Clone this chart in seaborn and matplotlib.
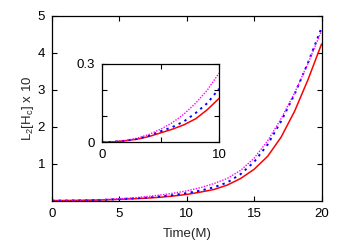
import numpy as np
import pandas as pd
import matplotlib
matplotlib.use("Agg")
import matplotlib.pyplot as plt
import seaborn as sns

# values
time = list(range(0, 21))
red = [0, 0.002, 0.006, 0.012, 0.022, 0.036, 0.05, 0.067, 0.09, 0.125, 0.168,
       0.23, 0.3, 0.42, 0.6, 0.85, 1.2, 1.72, 2.42, 3.28, 4.24]
blue = [0, 0.002, 0.006, 0.013, 0.025, 0.042, 0.058, 0.08, 0.112, 0.15, 0.205,
        0.27, 0.36, 0.49, 0.72, 1.05, 1.52, 2.15, 2.88, 3.74, 4.68]
magenta = [0, 0.002, 0.007, 0.016, 0.03, 0.05, 0.075, 0.108, 0.15, 0.2, 0.265,
           0.35, 0.46, 0.6, 0.82, 1.15, 1.62, 2.22, 2.92, 3.72, 4.6]

df = pd.DataFrame({"t": time, "red": red, "blue": blue, "magenta": magenta})
inset_df = df[df["t"] <= 10]

sns.set_style("ticks")
plt.rcParams["font.family"] = ["Liberation Sans", "DejaVu Sans"]
plt.rcParams["font.size"] = 9.5
plt.rcParams["mathtext.fontset"] = "custom"
plt.rcParams["mathtext.rm"] = "Liberation Sans"
plt.rcParams["mathtext.it"] = "Liberation Sans"

styles = [("red", "red", "-", 1.1),
          ("blue", "blue", (0, (1.2, 2.2)), 1.4),
          ("magenta", "magenta", (0, (1, 1)), 1.0)]


def draw(ax, data):
    for col, color, ls, lw in styles:
        sns.lineplot(data=data, x="t", y=col, ax=ax, color=color,
                     linestyle=ls, linewidth=lw, legend=False)
    ax.tick_params(direction="in", top=True, right=True, length=3.5,
                   width=0.8, colors="black", labelsize=9.5, pad=5)
    for s in ax.spines.values():
        s.set_visible(True)
        s.set_linewidth(0.9)
        s.set_color("black")
    ax.set_xlabel("")
    ax.set_ylabel("")


fig = plt.figure(figsize=(3.45, 2.42), dpi=100)
ax = fig.add_axes([0.151, 0.171, 0.781, 0.763])
draw(ax, df)
ax.set_xlim(0, 20)
ax.set_ylim(0, 5)
ax.set_xticks([0, 5, 10, 15, 20])
ax.set_yticks([1, 2, 3, 4, 5])
ax.set_xlabel("Time(M)", labelpad=6)
ax.set_ylabel(r"L$_2$[H$_\mathrm{c}$] x 10")
ax.yaxis.set_label_coords(-0.06, 0.5)

axin = fig.add_axes([0.296, 0.412, 0.339, 0.324])
draw(axin, inset_df)
axin.set_xlim(0, 10)
axin.set_ylim(0, 0.3)
axin.set_xticks([0, 5, 10])
axin.set_xticklabels(["0", "", "10"])
axin.set_yticks([0, 0.1, 0.2, 0.3])
axin.set_yticklabels(["0", "", "", "0.3"])

fig.savefig("out.png", dpi=100)
